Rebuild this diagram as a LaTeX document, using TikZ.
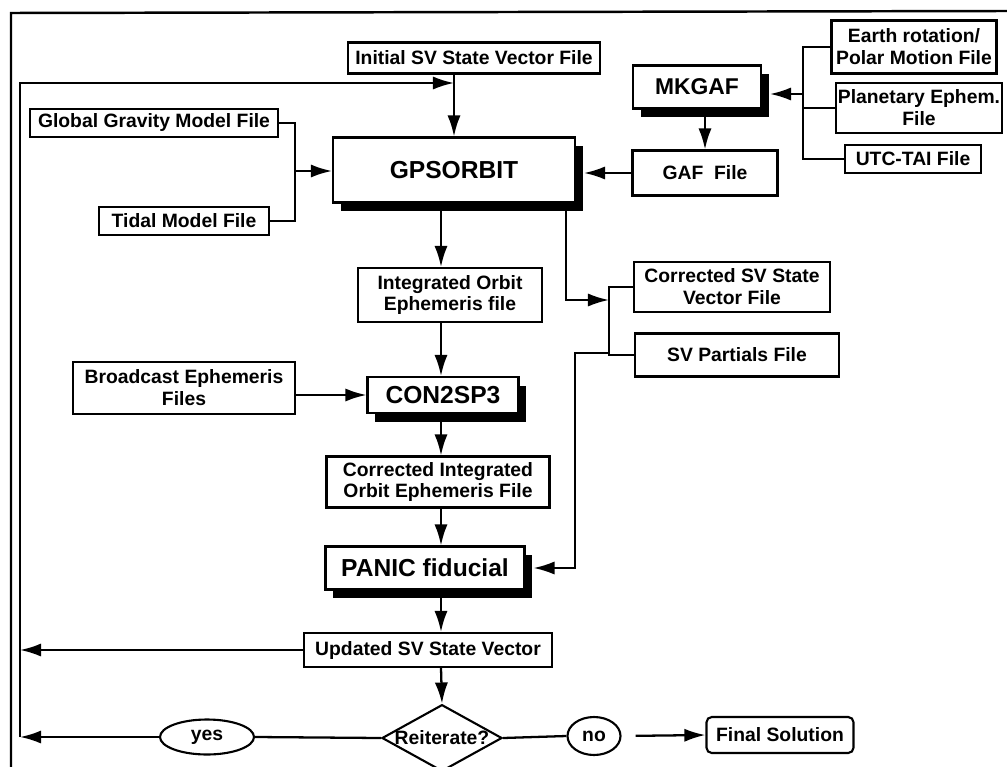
\documentclass[tikz,border=0pt]{standalone}
\usepackage{fontspec}
\setmainfont{Liberation Sans}
\usepackage{tikz}
\usetikzlibrary{shadows}
\usetikzlibrary{positioning}
\usetikzlibrary{arrows.meta,shapes}
\def\px{0.02cm}
\tikzstyle{filebox} = [draw, line width=1.2pt, fill=white, align=center, inner sep=1pt,
  font=\fontsize{11}{12.5}\selectfont\bfseries]
\tikzstyle{progbox} = [filebox, font=\fontsize{14}{16}\selectfont\bfseries,
  drop shadow={shadow xshift=4.5pt, shadow yshift=-5pt, opacity=1, fill=black}]
\tikzstyle{edge} = [draw, line width=1.3pt, -{Latex[length=12pt,width=7.5pt]}]
\tikzstyle{wire} = [draw, line width=1.3pt]
\tikzset{sz/.style 2 args={minimum width=#1*\px, minimum height=#2*\px}}

\begin{document}
\begin{tikzpicture}[x=\px, y=-\px]
  \useasboundingbox (0,0) rectangle (1007,767);
  \draw[line width=1.4pt] (11,767) -- (11,13) -- (1007,11);

  % programs and files
  \node[filebox, sz={252}{31}] (init) at (474,58) {Initial SV State Vector File};
  \node[progbox, sz={242}{65}] (gps) at (454,170) {GPSORBIT};
  \node[progbox, sz={128}{43}, font=\fontsize{13}{15}\selectfont\bfseries] (mkgaf) at (697,87) {MKGAF};
  \node[filebox, sz={165}{53}] (earth) at (914,47) {Earth rotation/\\Polar Motion File};
  \node[filebox, sz={166}{50}] (planet) at (919,108) {Planetary Ephem.\\File};
  \node[filebox, sz={136}{28}] (utc) at (913,159) {UTC-TAI File};
  \node[filebox, sz={145}{45}] (gaf) at (705,173) {GAF\ \ File};
  \node[filebox, sz={248}{28}] (ggm) at (154,123) {Global Gravity Model File};
  \node[filebox, sz={170}{28}] (tidal) at (184,221) {Tidal Model File};
  \node[filebox, sz={184}{54}] (integ) at (450,295) {Integrated Orbit\\Ephemeris file};
  \node[filebox, sz={196}{50}] (corrsv) at (732,287) {Corrected SV State\\Vector File};
  \node[filebox, sz={204}{43}] (partials) at (737,355) {SV Partials File};
  \node[filebox, sz={222}{52}] (bcast) at (184,388) {Broadcast Ephemeris\\Files};
  \node[progbox, sz={151}{36}] (con) at (443,395) {CON2SP3};
  \node[filebox, sz={223}{51}] (corrint) at (438,482) {Corrected Integrated\\Orbit Ephemeris File};
  \node[progbox, sz={199}{43}] (panic) at (425,568) {PANIC fiducial};
  \node[filebox, sz={248}{34}] (upd) at (428,650) {Updated SV State Vector};
  \node[filebox, diamond, aspect=1.8, inner sep=0pt] (reit) at (442,738) {Reiterate?};
  \node[filebox, ellipse, inner sep=0pt, sz={94}{35}] (yes) at (207,737) {yes};
  \node[filebox, ellipse, inner sep=0pt, sz={53}{38}] (no) at (594,736) {no};
  \node[filebox, rounded corners=3pt, sz={147}{36}] (final) at (780,735) {Final Solution};

  % junctions
  \coordinate (col) at (441,0);
  \coordinate (lp) at (20,83);
  \coordinate (jl) at (295,171);
  \coordinate (jr) at (803,94);
  \coordinate (jb) at (609,300);
  \coordinate (jd) at (566,0);
  \coordinate (jp) at (575,353);

  % top inputs
  \draw[edge] (init.south -| gps.north) -- (gps.north);
  \draw[wire] (ggm.east) -| (tidal.east -| jl) -- (tidal.east);
  \draw[edge] (jl) -- (jl -| gps.west);
  \draw[wire] (earth.west) -| (utc.west -| jr) -- (utc.west);
  \draw[wire] (planet.west) -- (planet.west -| jr);
  \draw[edge, shorten >=4.5pt] (jr) -- (jr -| mkgaf.east);
  \draw[edge] (gaf.north |- mkgaf.south) -- (gaf.north);
  \draw[edge, shorten >=4.5pt] (gaf.west) -- (gaf.west -| gps.east);

  % main column
  \draw[edge] (gps.south -| col) -- (integ.north -| col);
  \draw[edge] (integ.south -| col) -- (con.north -| col);
  \draw[edge] (con.west -| bcast.east) -- (con.west);
  \draw[edge] (con.south -| col) -- (corrint.north -| col);
  \draw[edge] (corrint.south -| col) -- (panic.north -| col);
  \draw[edge] (panic.south -| col) -- (upd.north -| col);
  \draw[edge] (upd.south -| col) -- (reit.north);

  % corrected state and partials
  \draw[wire] (corrsv.west) -| (partials.west -| jb) -- (partials.west);
  \draw[edge] (gps.south -| jd) |- (jb);
  \draw[edge, shorten >=4.5pt] (jp -| jb) -- (jp) |- (panic.east);

  % iteration
  \draw[wire] (reit.west) -- (yes.east);
  \draw[wire] (reit.east) -- (no.west);
  \draw[edge, shorten <=8pt] (no.east) -- (final.west);
  \draw[edge] (yes.west) -- (yes.west -| lp);
  \draw[edge] (upd.west) -- (upd.west -| lp);
  \draw[edge] (yes.west -| lp) -- (lp) -- (lp -| gps.north);
\end{tikzpicture}
\end{document}
